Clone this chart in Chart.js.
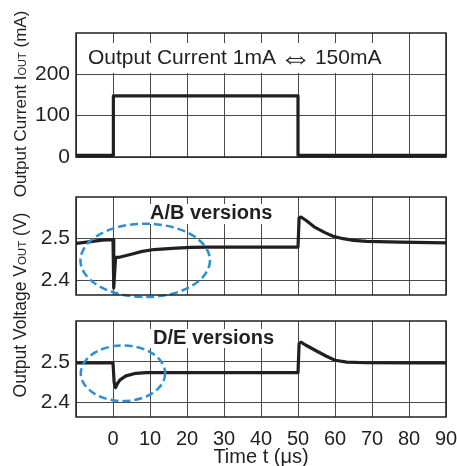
<!DOCTYPE html>
<html lang="en">
<head>
<meta charset="UTF-8">
<title>Load transient response</title>
<style>
  body { margin: 0; background: #fff; }
  #wrap { position: relative; width: 457px; height: 466px; }
  #wrap canvas { position: absolute; left: 0; top: 0; }
</style>
</head>
<body>
<div id="wrap">
  <canvas id="cur" width="457" height="466"></canvas>
  <canvas id="ab" width="457" height="466"></canvas>
  <canvas id="de" width="457" height="466"></canvas>
</div>
<script src="https://cdn.jsdelivr.net/npm/chart.js"></script>
<script>
// axes
const timeTicks = [-10, 0, 10, 20, 30, 40, 50, 60, 70, 80, 90];
const currentTicks = [0, 100, 200];
const voltTicks = [2.4, 2.5];

// load step 1mA <-> 150mA
const curTime  = [-10, 0.1, 0.1, 50, 50, 90];
const curValue = [4, 4, 148, 148, 4, 4];

// A/B versions
const abTime = [-10, -6, -3, 0, 0.2, 0.7, 1.4, 2.8, 5.5, 7.6, 11, 16, 21, 26, 50, 50.3, 50.8, 52.3, 54.6, 57.3, 59.5, 62.2, 65, 68.6, 77.6, 90];
const abVolt = [2.489, 2.493, 2.4965, 2.498, 2.382, 2.455, 2.455, 2.458, 2.464, 2.469, 2.474, 2.477, 2.479, 2.48, 2.48, 2.55, 2.552, 2.543, 2.527, 2.5145, 2.506, 2.500, 2.496, 2.4935, 2.492, 2.490];

// D/E versions
const deTime = [-10, 0, 0.3, 0.7, 1.2, 1.9, 3.5, 6.2, 9, 50, 50.3, 50.8, 52.3, 55, 57.7, 60, 63.2, 68.6, 80, 90];
const deVolt = [2.4976, 2.4976, 2.45, 2.437, 2.447, 2.456, 2.4656, 2.472, 2.4735, 2.4736, 2.545, 2.548, 2.540, 2.5265, 2.5137, 2.504, 2.4993, 2.4978, 2.4976, 2.4976];

// dashed rings: [centre t, centre V, radius t, radius V]
const abRing = [8.7, 2.448, 17.5, 0.088];
const deRing = [2.7, 2.472, 11.4, 0.068];

const ink = '#231f20';
const gridInk = '#4a4a4a';
const ringBlue = '#2b8fd1';
const face = '"Liberation Sans", Arial, sans-serif';

function sideTitle(ctx, x, yc, parts) {
    ctx.save();
    ctx.translate(x, yc);
    ctx.rotate(-Math.PI / 2);
    let total = 0;
    parts.forEach(p => { ctx.font = p[1] + 'px ' + face; total += ctx.measureText(p[0]).width; });
    let pos = -total / 2;
    ctx.fillStyle = ink;
    ctx.textBaseline = 'alphabetic';
    ctx.textAlign = 'left';
    parts.forEach(p => {
        ctx.font = p[1] + 'px ' + face;
        ctx.fillText(p[0], pos, 0);
        pos += ctx.measureText(p[0]).width;
    });
    ctx.restore();
}

// label pieces: [text, gap before piece, font, y shift]
function drawLabel(ctx, x, y, pieces) {
    ctx.fillStyle = ink;
    ctx.textBaseline = 'middle';
    ctx.textAlign = 'left';
    let pos = x;
    pieces.forEach(p => {
        ctx.font = p[2];
        pos += p[1];
        ctx.fillText(p[0], pos, y + (p[3] || 0));
        pos += ctx.measureText(p[0]).width;
    });
}

function makePanel(id, cfg) {
    const decor = {
        id: 'decor',
        beforeDatasetsDraw(chart) {
            const ctx = chart.ctx;
            const b = cfg.box;
            ctx.save();
            ctx.fillStyle = '#fff';
            ctx.fillRect(b[0], b[1], b[2] - b[0], b[3] - b[1]);
            drawLabel(ctx, cfg.label[0], cfg.label[1], cfg.label[2]);
            ctx.restore();
        },
        afterDatasetsDraw(chart) {
            const ctx = chart.ctx, a = chart.chartArea;
            const xs = chart.scales.x, ys = chart.scales.y;
            ctx.save();
            if (cfg.ring) {
                const r = cfg.ring;
                const cx = xs.getPixelForValue(r[0]), cy = ys.getPixelForValue(r[1]);
                const rx = Math.abs(xs.getPixelForValue(r[0] + r[2]) - cx);
                const ry = Math.abs(ys.getPixelForValue(r[1] + r[3]) - cy);
                ctx.strokeStyle = ringBlue;
                ctx.lineWidth = 2.5;
                ctx.setLineDash([8, 4]);
                ctx.beginPath();
                ctx.ellipse(cx, cy, rx, ry, 0, 0, Math.PI * 2);
                ctx.stroke();
                ctx.setLineDash([]);
            }
            ctx.strokeStyle = ink;
            ctx.lineWidth = 1.5;
            ctx.strokeRect(a.left, a.top, a.right - a.left, a.bottom - a.top);
            ctx.restore();
            if (cfg.side) sideTitle(ctx, 26, cfg.side[0], cfg.side[1]);
        }
    };
    return new Chart(document.getElementById(id), {
        type: 'line',
        data: {
            datasets: [{
                data: cfg.t.map((t, i) => ({ x: t, y: cfg.v[i] })),
                borderColor: ink,
                borderWidth: 3.2,
                borderJoinStyle: 'round',
                pointRadius: 0,
                tension: 0
            }]
        },
        options: {
            responsive: false,
            animation: false,
            events: [],
            layout: { padding: { top: cfg.top, bottom: cfg.bottom, left: 0, right: 11 } },
            plugins: { legend: { display: false }, tooltip: { enabled: false } },
            scales: {
                x: {
                    type: 'linear', min: -10, max: 90,
                    afterBuildTicks: ax => { ax.ticks = timeTicks.map(v => ({ value: v })); },
                    afterFit: ax => { ax.height = cfg.xHeight; ax.paddingLeft = 0; ax.paddingRight = 0; },
                    grid: { color: gridInk, lineWidth: 1, drawTicks: false },
                    border: { display: false },
                    ticks: {
                        display: cfg.xLabels, autoSkip: false, maxRotation: 0, padding: 10,
                        color: ink, font: { family: face, size: 20 },
                        callback: v => v === -10 ? '' : String(v)
                    },
                    title: {
                        display: cfg.xLabels, text: 'Time t (\u03bcs)', color: ink,
                        font: { family: face, size: 20 }, padding: { top: 0, bottom: -3 }
                    }
                },
                y: {
                    type: 'linear', min: cfg.yMin, max: cfg.yMax,
                    afterBuildTicks: ax => { ax.ticks = cfg.yTicks.map(v => ({ value: v })); },
                    afterFit: ax => { ax.width = 76; },
                    grid: { color: gridInk, lineWidth: 1, drawTicks: false },
                    border: { display: false },
                    ticks: {
                        padding: 6, color: ink, font: { family: face, size: 21 },
                        callback: cfg.fmt
                    }
                }
            }
        },
        plugins: [decor]
    });
}

makePanel('cur', {
    t: curTime, v: curValue, top: 33, bottom: 309, xHeight: 0, xLabels: false,
    yMin: 0, yMax: 300, yTicks: currentTicks, fmt: v => String(v),
    box: [77, 43, 395, 73],
    label: [88, 58, [
        ['Output Current 1mA', 0, '21px ' + face],
        ['\u21d4', 3, '200 33px "DejaVu Sans", sans-serif', 1.5],
        ['150mA', 3, '21px ' + face]
    ]],
    side: [104, [['Output Current I', 17], ['OUT', 11], [' (mA)', 17]]]
});

makePanel('ab', {
    t: abTime, v: abVolt, top: 197, bottom: 171, xHeight: 0, xLabels: false,
    yMin: 2.365, yMax: 2.6, yTicks: voltTicks, fmt: v => v.toFixed(1),
    box: [135, 204, 290, 224],
    label: [150, 213, [['A/B versions', 0, 'bold 20px ' + face]]],
    ring: abRing,
    side: [305, [['Output Voltage V', 17.5], ['OUT', 11.5], [' (V)', 17.5]]]
});

makePanel('de', {
    t: deTime, v: deVolt, top: 321, bottom: 0, xHeight: 49, xLabels: true,
    yMin: 2.365, yMax: 2.6, yTicks: voltTicks, fmt: v => v.toFixed(1),
    box: [135, 329, 290, 348],
    label: [153, 338, [['D/E versions', 0, 'bold 20px ' + face]]],
    ring: deRing
});
</script>
</body>
</html>
